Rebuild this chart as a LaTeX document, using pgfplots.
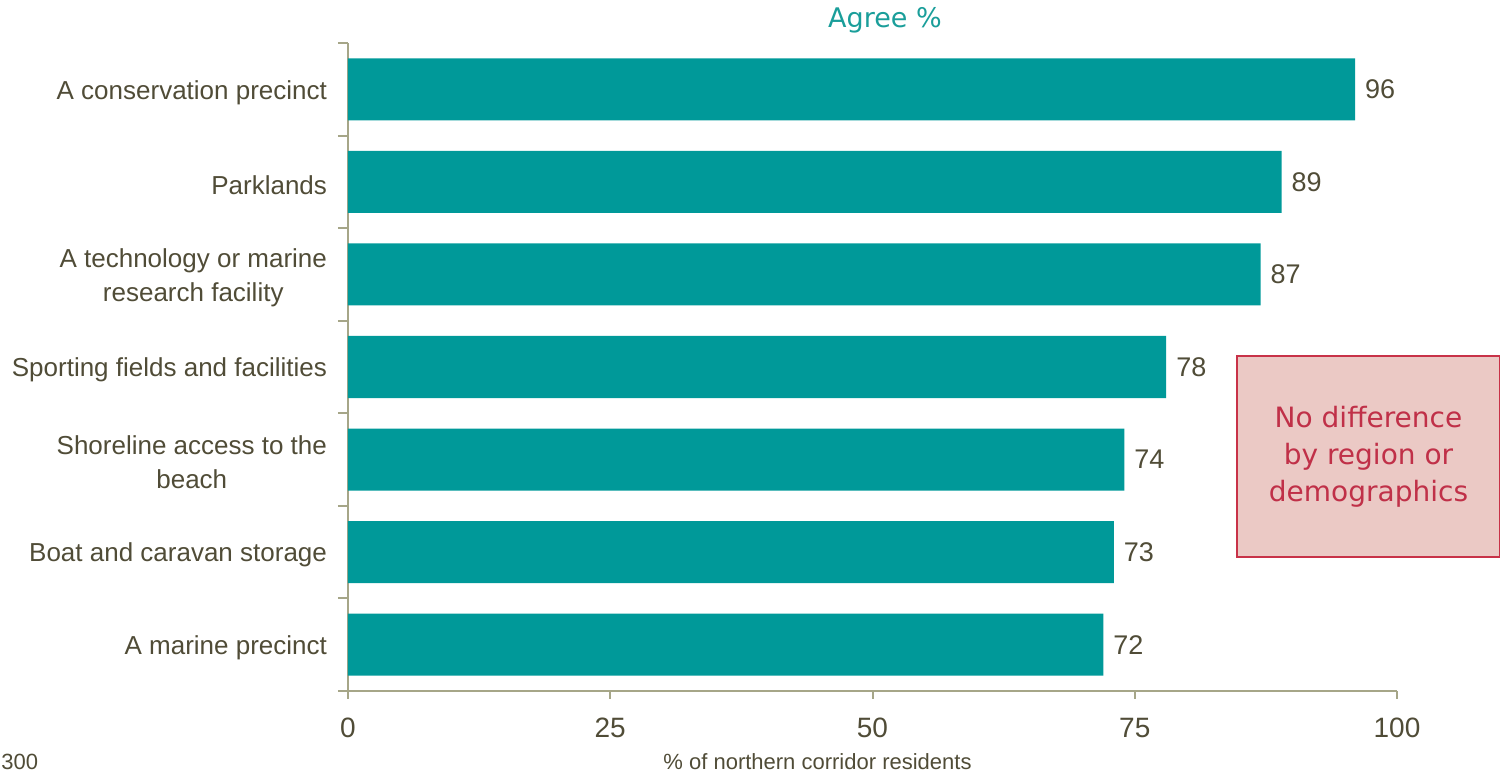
\documentclass[border=0pt]{standalone}
\usepackage{pgfplots}
\pgfplotsset{compat=1.18}
\usepackage{fontspec}
\setmainfont{Liberation Sans}
\newfontfamily\dejavu{DejaVu Sans}
\definecolor{barteal}{RGB}{0,153,153}
\definecolor{textcol}{RGB}{80,76,55}
\definecolor{axiscol}{RGB}{166,166,136}
\definecolor{titlecol}{RGB}{26,158,154}
\definecolor{boxfill}{RGB}{235,201,197}
\definecolor{boxborder}{RGB}{200,50,72}
\definecolor{boxtext}{RGB}{192,48,72}
\begin{document}
\begin{tikzpicture}[x=1pt,y=1pt]
\clip (0,0) rectangle (750,390);
\begin{axis}[
  at={(174pt,44.5pt)}, anchor=south west,
  scale only axis, width=524.5pt, height=324pt,
  xbar, xmin=0, xmax=100, ymin=-0.5, ymax=6.5,
  bar width=0.67,
  axis x line*=bottom, axis y line*=left,
  axis line style={draw=axiscol, line width=1pt, -},
  tick align=outside,
  xtick={0,25,50,75,100},
  x tick style={draw=axiscol, line width=1pt},
  major tick length=4pt,
  minor tick length=5pt,
  ytick={0,...,6},
  major y tick style={draw=none},
  minor ytick={-0.5,0.5,...,6.5},
  minor y tick style={draw=axiscol, line width=1pt},
  yticklabels={A marine precinct, Boat and caravan storage, {Shoreline access to the\\beach}, Sporting fields and facilities, {A technology or marine\\research facility}, Parklands, A conservation precinct},
  yticklabel style={align=center, font=\fontsize{13}{17}\selectfont, text=textcol, xshift=-3pt, yshift=-1.5pt},
  xticklabel style={font=\fontsize{14}{16}\selectfont, text=textcol, yshift=-6pt},
  /pgf/number format/assume math mode=true,
  nodes near coords,
  nodes near coords style={anchor=west, font=\fontsize{13.5}{15}\selectfont, text=textcol, xshift=1.5pt},
]
\addplot[fill=barteal, draw=none] coordinates {(72,0) (73,1) (74,2) (78,3) (87,4) (89,5) (96,6)};
\end{axis}
\node[font=\dejavu\fontsize{13.5}{16}\selectfont, text=titlecol] at (442.5,380) {Agree \%};
\node[draw=boxborder, line width=1pt, fill=boxfill, minimum width=131.5pt, minimum height=100.5pt, anchor=north west, text=boxtext, align=center, font=\dejavu\fontsize{14}{18.5}\selectfont] at (618,212.5) {No difference\\by region or\\demographics};
\node[font=\fontsize{11}{13}\selectfont, text=textcol] at (408.75,9) {\% of northern corridor residents};
\node[anchor=west, font=\fontsize{11}{13}\selectfont, text=textcol, inner sep=0pt] at (0.5,9) {300};
\end{tikzpicture}
\end{document}
